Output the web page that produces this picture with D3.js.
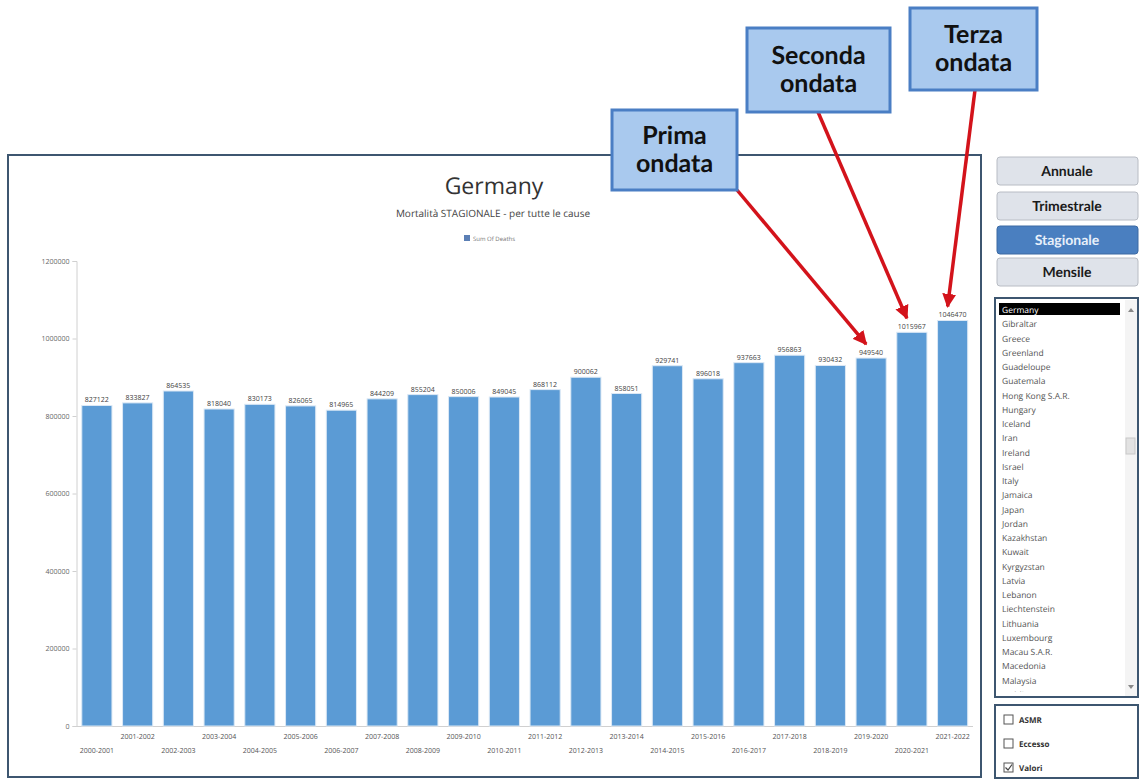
<!DOCTYPE html>
<html>
<head>
<meta charset="utf-8">
<script src="https://cdn.jsdelivr.net/npm/d3@7"></script>
<style>
  body { margin: 0; background: #fff; }
  svg { display: block; }
</style>
</head>
<body>
<div id="chart"></div>
<script>
// Seasons (x categories) and total deaths per season
const seasons = ["2000-2001", "2001-2002", "2002-2003", "2003-2004", "2004-2005", "2005-2006",
  "2006-2007", "2007-2008", "2008-2009", "2009-2010", "2010-2011", "2011-2012", "2012-2013",
  "2013-2014", "2014-2015", "2015-2016", "2016-2017", "2017-2018", "2018-2019", "2019-2020",
  "2020-2021", "2021-2022"];
const deaths = [827122, 833827, 864535, 818040, 830173, 826065, 814965, 844209, 855204, 850006,
  849045, 868112, 900062, 858051, 929741, 896018, 937663, 956863, 930432, 949540, 1015967, 1046470];
const yTicks = [0, 200000, 400000, 600000, 800000, 1000000, 1200000];

const buttons = ["Annuale", "Trimestrale", "Stagionale", "Mensile"];
const countries = ["Germany", "Gibraltar", "Greece", "Greenland", "Guadeloupe", "Guatemala",
  "Hong Kong S.A.R.", "Hungary", "Iceland", "Iran", "Ireland", "Israel", "Italy", "Jamaica",
  "Japan", "Jordan", "Kazakhstan", "Kuwait", "Kyrgyzstan", "Latvia", "Lebanon", "Liechtenstein",
  "Lithuania", "Luxembourg", "Macau S.A.R.", "Macedonia", "Malaysia", "Maldives"];
const checks = [["ASMR", false], ["Eccesso", false], ["Valori", true]];

// callouts: label lines, index of the bar the arrow points at
const callouts = [
  { lines: ["Prima", "ondata"], bar: 19, box: [612, 110, 125, 80], from: [737, 190] },
  { lines: ["Seconda", "ondata"], bar: 20, box: [747, 28, 143, 84], from: [818, 112] },
  { lines: ["Terza", "ondata"], bar: 21, box: [910, 8, 127, 82], from: [975, 90] }
];

const W = 1140, H = 781;
const svg = d3.select("#chart").append("svg").attr("width", W).attr("height", H)
  .attr("text-rendering", "geometricPrecision");

// chart frame
svg.append("rect").attr("x", 8).attr("y", 155).attr("width", 973).attr("height", 622)
  .attr("fill", "#fff").attr("stroke", "#3d5670").attr("stroke-width", 2);

const x = d3.scaleBand().domain(seasons).range([76.5, 973]).paddingInner(0.26).paddingOuter(0.13);
const y = d3.scaleLinear().domain([0, 1200000]).range([726, 261]);

// y axis
const yAxis = svg.append("g").attr("transform", "translate(76.5,0)")
  .call(d3.axisLeft(y).tickValues(yTicks).tickSize(4).tickPadding(3).tickFormat(d3.format("d")));
yAxis.select(".domain").attr("stroke", "#d0d0d0");
yAxis.selectAll(".tick line").attr("stroke", "#d0d0d0");
yAxis.selectAll("text").attr("fill", "#666").attr("font-size", 7).attr("font-family", "Open Sans");

// x axis line
svg.append("line").attr("x1", 76.5).attr("x2", 973).attr("y1", 726.5).attr("y2", 726.5)
  .attr("stroke", "#d0d0d0");

// bars
svg.append("g").selectAll("rect").data(deaths).join("rect")
  .attr("x", (d, i) => x(seasons[i]))
  .attr("y", d => y(d))
  .attr("width", x.bandwidth())
  .attr("height", d => y(0) - y(d))
  .attr("fill", "#5b9bd5")
  .attr("stroke", "#dbe8f5").attr("stroke-width", 1);

// value labels
svg.append("g").selectAll("text").data(deaths).join("text")
  .attr("x", (d, i) => x(seasons[i]) + x.bandwidth() / 2)
  .attr("y", d => y(d) - 3)
  .attr("text-anchor", "middle")
  .attr("font-family", "Open Sans").attr("font-size", 7).attr("fill", "#444")
  .text(d => d);

// x labels, staggered on two rows
svg.append("g").selectAll("text").data(seasons).join("text")
  .attr("x", d => x(d) + x.bandwidth() / 2)
  .attr("y", (d, i) => i % 2 ? 739 : 753)
  .attr("text-anchor", "middle")
  .attr("font-family", "Open Sans").attr("font-size", 7).attr("fill", "#555")
  .text(d => d);

// title, subtitle, legend
svg.append("text").attr("x", 494).attr("y", 194).attr("text-anchor", "middle")
  .attr("font-family", "Open Sans").attr("font-size", 23).attr("fill", "#333").text("Germany");
svg.append("text").attr("x", 493).attr("y", 217).attr("text-anchor", "middle")
  .attr("font-family", "Open Sans").attr("font-size", 10).attr("fill", "#444")
  .text("Mortalità STAGIONALE - per tutte le cause");
svg.append("rect").attr("x", 464).attr("y", 235).attr("width", 6).attr("height", 6).attr("fill", "#5b7fb5");
svg.append("text").attr("x", 473).attr("y", 241).attr("font-family", "Open Sans")
  .attr("font-size", 6).attr("fill", "#777").text("Sum Of Deaths");

// right panel: period buttons
const btnY = [157, 192, 226, 258];
const btn = svg.append("g").selectAll("g").data(buttons).join("g")
  .attr("transform", (d, i) => `translate(997,${btnY[i]})`);
btn.append("rect").attr("width", 141).attr("height", 28).attr("rx", 3)
  .attr("fill", d => d === "Stagionale" ? "#4a7fc0" : "#dfe3ea")
  .attr("stroke", d => d === "Stagionale" ? "#3c6aa3" : "#b8bcc4");
btn.append("text").attr("x", 70).attr("y", 19).attr("text-anchor", "middle")
  .attr("font-family", "Lato").attr("font-weight", "bold").attr("font-size", 14)
  .attr("fill", d => d === "Stagionale" ? "#e8f0fa" : "#1a1a1a").text(d => d);

// country list box
svg.append("rect").attr("x", 995).attr("y", 298).attr("width", 143).attr("height", 399)
  .attr("fill", "#fff").attr("stroke", "#3d5670").attr("stroke-width", 2);
const listClip = svg.append("clipPath").attr("id", "listclip");
listClip.append("rect").attr("x", 996).attr("y", 299).attr("width", 128).attr("height", 393);
const list = svg.append("g").attr("clip-path", "url(#listclip)");
list.append("rect").attr("x", 999).attr("y", 303).attr("width", 121).attr("height", 12).attr("fill", "#000");
list.selectAll("text").data(countries).join("text")
  .attr("x", 1002).attr("y", (d, i) => 313 + i * 14.25)
  .attr("font-family", "Open Sans").attr("font-size", 8.5)
  .attr("fill", (d, i) => i === 0 ? "#fff" : "#555").text(d => d);
// scrollbar
svg.append("rect").attr("x", 1125).attr("y", 300).attr("width", 12).attr("height", 396).attr("fill", "#f4f4f4");
svg.append("rect").attr("x", 1126).attr("y", 438).attr("width", 9).attr("height", 16)
  .attr("fill", "#e2e2e2").attr("stroke", "#c8c8c8");
svg.append("path").attr("d", "M1128,312 L1131,308 L1134,312 Z").attr("fill", "#888");
svg.append("path").attr("d", "M1128,685 L1131,689 L1134,685 Z").attr("fill", "#888");

// checkbox panel
svg.append("rect").attr("x", 995).attr("y", 705).attr("width", 143).attr("height", 73)
  .attr("fill", "#fff").attr("stroke", "#3d5670").attr("stroke-width", 2);
const chk = svg.append("g").selectAll("g").data(checks).join("g")
  .attr("transform", (d, i) => `translate(1004,${715 + i * 24})`);
chk.append("rect").attr("width", 9).attr("height", 9).attr("fill", "#fff").attr("stroke", "#555");
chk.filter(d => d[1]).append("path").attr("d", "M1.5,4.5 L4,7 L8,1.5")
  .attr("fill", "none").attr("stroke", "#444").attr("stroke-width", 1.2);
chk.append("text").attr("x", 15).attr("y", 8).attr("font-family", "Open Sans")
  .attr("font-size", 8).attr("font-weight", "bold").attr("fill", "#333").text(d => d[0]);

// callout arrows
const defs = svg.append("defs");
defs.append("marker").attr("id", "arrow").attr("viewBox", "0 0 10 10").attr("refX", 9).attr("refY", 5)
  .attr("markerWidth", 4).attr("markerHeight", 4).attr("orient", "auto")
  .append("path").attr("d", "M0,0 L10,5 L0,10 Z").attr("fill", "#d3131b");

callouts.forEach(c => {
  const tx = x(seasons[c.bar]) + x.bandwidth() / 2;
  const ty = y(deaths[c.bar]) - 14;
  svg.append("line").attr("x1", c.from[0]).attr("y1", c.from[1]).attr("x2", tx - 5).attr("y2", ty)
    .attr("stroke", "#d3131b").attr("stroke-width", 3.5).attr("marker-end", "url(#arrow)");
  const [bx, by, bw, bh] = c.box;
  svg.append("rect").attr("x", bx).attr("y", by).attr("width", bw).attr("height", bh)
    .attr("fill", "#a9c9ee").attr("stroke", "#4a7ec4").attr("stroke-width", 3);
  c.lines.forEach((l, j) => {
    svg.append("text").attr("x", bx + bw / 2).attr("y", by + bh / 2 - 6 + j * 28)
      .attr("text-anchor", "middle").attr("font-family", "Lato").attr("font-weight", "bold")
      .attr("font-size", 25).attr("fill", "#111").text(l);
  });
});
</script>
</body>
</html>
